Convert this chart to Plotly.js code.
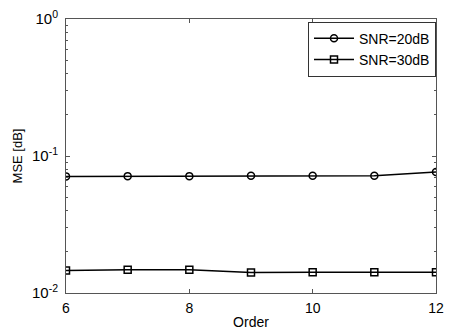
<!DOCTYPE html>
<html><head><meta charset="utf-8">
<script src="https://cdn.plot.ly/plotly-3.0.1.min.js"></script>
<style>body{margin:0;background:#fff}#c{width:456px;height:333px}</style>
</head><body><div id="c"></div>
<script>
var order = [6, 7, 8, 9, 10, 11, 12];
var mse20 = [0.0710, 0.0713, 0.0713, 0.0718, 0.0718, 0.0718, 0.0765];
var mse30 = [0.0146, 0.0148, 0.0148, 0.0141, 0.0142, 0.0142, 0.0142];
var yTickVals = [0.01, 0.1, 1];
var yTickText = ['10<sup>-2</sup>', '10<sup>-1</sup>', '10<sup>0</sup>'];
var yMinorVals = [0.02, 0.03, 0.04, 0.05, 0.06, 0.07, 0.08, 0.09, 0.2, 0.3, 0.4, 0.5, 0.6, 0.7, 0.8, 0.9];
var xTickVals = [6, 8, 10, 12];

var traces = [
  {x: order, y: mse20, name: 'SNR=20dB', mode: 'lines+markers',
   line: {color: '#000', width: 1.5},
   marker: {symbol: 'circle-open', size: 7, color: '#000', line: {width: 1.5}}},
  {x: order, y: mse30, name: 'SNR=30dB', mode: 'lines+markers',
   line: {color: '#000', width: 1.5},
   marker: {symbol: 'square-open', size: 7, color: '#000', line: {width: 1.5}}}
];
var layout = {
  width: 456, height: 333,
  margin: {l: 66, r: 20, t: 19, b: 40},
  paper_bgcolor: '#fff', plot_bgcolor: '#fff',
  font: {family: 'Liberation Sans, Arial, sans-serif', size: 14, color: '#000'},
  showlegend: true,
  legend: {x: 1, y: 0.99, xanchor: 'right', yanchor: 'top',
           bordercolor: '#333', borderwidth: 1, bgcolor: '#fff',
           font: {size: 14}, itemwidth: 40, tracegroupgap: 0},
  xaxis: {range: [6, 12], tickvals: xTickVals, ticks: 'inside', ticklen: 4,
          showgrid: false, zeroline: false, showline: true, mirror: 'ticks',
          linecolor: '#555', linewidth: 1, tickcolor: '#555', ticklabelstandoff: 2,
          title: {text: 'Order', standoff: 2, font: {size: 14}}},
  yaxis: {type: 'log', range: [-2, 0], tickvals: yTickVals, ticktext: yTickText,
          ticks: 'inside', ticklen: 4, showgrid: false, zeroline: false,
          showline: true, mirror: 'ticks', linecolor: '#555', linewidth: 1, tickcolor: '#555',
          ticklabelstandoff: 4, tickfont: {size: 15},
          minor: {tickmode: 'array', tickvals: yMinorVals, ticks: 'inside', ticklen: 2,
                  tickcolor: '#555', showgrid: false},
          title: {text: 'MSE [dB]', standoff: 6, font: {size: 13}}}
};
Plotly.newPlot('c', traces, layout, {displayModeBar: false, staticPlot: true});
</script></body></html>
